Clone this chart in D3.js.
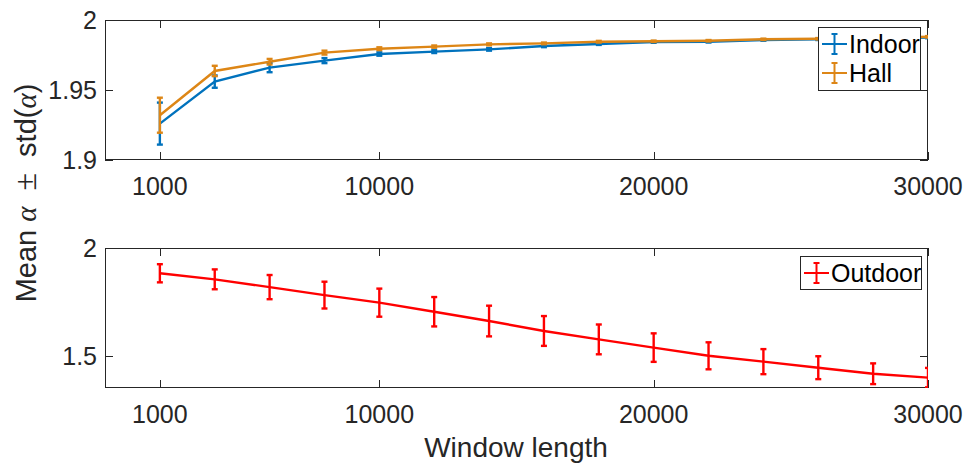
<!DOCTYPE html>
<html><head><meta charset="utf-8">
<script src="https://cdn.jsdelivr.net/npm/d3@7"></script>
<style>body{margin:0;background:#fff}svg{display:block}text{font-family:"Liberation Sans",Arial,sans-serif}</style>
</head><body><svg id="c" width="968" height="466"></svg>
<script>
const windowPos = [2000,4000,6000,8000,10000,12000,14000,16000,18000,20000,22000,24000,26000,28000,30000];
const xTickValues = [2000,10000,20000,30000];
const xTickLabels = ["1000","10000","20000","30000"];
const indoorMean = [1.926,1.956,1.966,1.971,1.9757,1.9774,1.979,1.9814,1.9829,1.9843,1.9845,1.9857,1.9862,1.9868,1.9875];
const indoorStd  = [0.015,0.0044,0.0033,0.0018,0.0012,0.001,0.0009,0.0008,0.0007,0.0006,0.0006,0.0005,0.0005,0.0005,0.0005];
const hallMean   = [1.932,1.9636,1.9702,1.9767,1.9795,1.981,1.9826,1.9833,1.9845,1.9848,1.9852,1.9862,1.9866,1.987,1.988];
const hallStd    = [0.0125,0.0037,0.002,0.0014,0.001,0.0008,0.0007,0.0006,0.0006,0.0005,0.0005,0.0005,0.0005,0.0005,0.0005];
const outdoorMean = [1.883,1.855,1.819,1.782,1.747,1.705,1.662,1.616,1.577,1.539,1.501,1.474,1.446,1.418,1.400];
const outdoorStd  = [0.042,0.046,0.056,0.062,0.065,0.068,0.071,0.069,0.069,0.066,0.0625,0.058,0.053,0.048,0.045];
const topYTicks = [1.9,1.95,2];
const topYLabels = ["1.9","1.95","2"];
const botYTicks = [1.5,2];
const botYLabels = ["1.5","2"];

const svg = d3.select("#c");
const axisCol = "#262626";
const L = 105, R = 928;
const x = d3.scaleLinear().domain([0,30000]).range([L,R]);

function panel(id, top, bottom, yDomain, yTicks, yLabels, series, legend){
  const y = d3.scaleLinear().domain(yDomain).range([bottom, top]);
  const g = svg.append("g");
  g.append("clipPath").attr("id",id).append("rect").attr("x",L).attr("y",top).attr("width",R-L).attr("height",bottom-top);
  const ax = g.append("g").attr("stroke",axisCol).attr("stroke-width",1).attr("fill","none");
  ax.append("rect").attr("x",L+0.5).attr("y",top+0.5).attr("width",R-L-1).attr("height",bottom-top-1);
  xTickValues.forEach(v=>{
    const px = Math.round(x(v))+0.5;
    ax.append("line").attr("x1",px).attr("x2",px).attr("y1",bottom).attr("y2",bottom-8);
    ax.append("line").attr("x1",px).attr("x2",px).attr("y1",top).attr("y2",top+8);
  });
  yTicks.forEach(v=>{
    const py = Math.round(y(v))+0.5;
    ax.append("line").attr("x1",L).attr("x2",L+8).attr("y1",py).attr("y2",py);
    ax.append("line").attr("x1",R).attr("x2",R-8).attr("y1",py).attr("y2",py);
  });
  xTickValues.forEach((v,i)=>{
    g.append("text").attr("x",x(v)).attr("y",bottom+35).attr("text-anchor","middle")
      .attr("font-size",25).attr("fill",axisCol).text(xTickLabels[i]);
  });
  yTicks.forEach((v,i)=>{
    g.append("text").attr("x",97).attr("y",y(v)).attr("dy","0.36em").attr("text-anchor","end")
      .attr("font-size",25).attr("fill",axisCol).text(yLabels[i]);
  });
  const pg = g.append("g").attr("clip-path",`url(#${id})`);
  series.forEach(s=>{
    const pts = windowPos.map((p,i)=>({x:p,m:s.mean[i],sd:s.std[i]}));
    pg.append("path").datum(pts).attr("fill","none").attr("stroke",s.color).attr("stroke-width",2.4)
      .attr("d",d3.line().x(d=>x(d.x)).y(d=>y(d.m)));
    const eb = pg.append("g").attr("stroke",s.color).attr("stroke-width",2.4);
    pts.forEach(d=>{
      const cx = x(d.x), y1 = y(d.m+d.sd), y2 = y(d.m-d.sd);
      eb.append("line").attr("x1",cx).attr("x2",cx).attr("y1",y1).attr("y2",y2);
      eb.append("line").attr("x1",cx-3).attr("x2",cx+3).attr("y1",y1).attr("y2",y1);
      eb.append("line").attr("x1",cx-3).attr("x2",cx+3).attr("y1",y2).attr("y2",y2);
    });
  });
  const lg = g.append("g");
  lg.append("rect").attr("x",legend.x+0.5).attr("y",legend.y+0.5).attr("width",legend.w).attr("height",legend.h)
    .attr("fill","#fff").attr("stroke",axisCol).attr("stroke-width",1);
  series.forEach((s,i)=>{
    const cy = legend.y + 17 + i*29;
    const sx0 = legend.x+4, sx1 = legend.x+29, mx=(sx0+sx1)/2;
    lg.append("line").attr("x1",sx0).attr("x2",sx1).attr("y1",cy).attr("y2",cy).attr("stroke",s.color).attr("stroke-width",2);
    lg.append("line").attr("x1",mx).attr("x2",mx).attr("y1",cy-10).attr("y2",cy+10).attr("stroke",s.color).attr("stroke-width",2);
    lg.append("line").attr("x1",mx-3).attr("x2",mx+3).attr("y1",cy-10).attr("y2",cy-10).attr("stroke",s.color).attr("stroke-width",2);
    lg.append("line").attr("x1",mx-3).attr("x2",mx+3).attr("y1",cy+10).attr("y2",cy+10).attr("stroke",s.color).attr("stroke-width",2);
    lg.append("text").attr("x",legend.x+31).attr("y",cy).attr("dy","0.36em").attr("font-size",25).attr("fill","#000").text(s.name);
  });
}

panel("clipTop",20,160,[1.9,2],topYTicks,topYLabels,[
  {name:"Indoor",mean:indoorMean,std:indoorStd,color:"#0072BD"},
  {name:"Hall",mean:hallMean,std:hallStd,color:"#DD8616"}
],{x:818,y:27,w:102,h:63});

panel("clipBot",248,388,[1.352,2],botYTicks,botYLabels,[
  {name:"Outdoor",mean:outdoorMean,std:outdoorStd,color:"#FF0000"}
],{x:800,y:256,w:121,h:33});

svg.append("text").attr("x",516).attr("y",457).attr("text-anchor","middle").attr("font-size",28).attr("fill",axisCol).text("Window length");
const yl = svg.append("text").attr("transform","translate(36,193) rotate(-90)").attr("text-anchor","middle").attr("font-size",29).attr("fill",axisCol);
yl.append("tspan").text("Mean ");
yl.append("tspan").attr("font-family","Liberation Serif").attr("font-style","italic").text("α");
yl.append("tspan").attr("font-family","Liberation Serif").attr("font-size",32).text("\u2002±\u2002");
yl.append("tspan").text("std(");
yl.append("tspan").attr("font-family","Liberation Serif").attr("font-style","italic").text("α");
yl.append("tspan").text(")");
</script></body></html>
